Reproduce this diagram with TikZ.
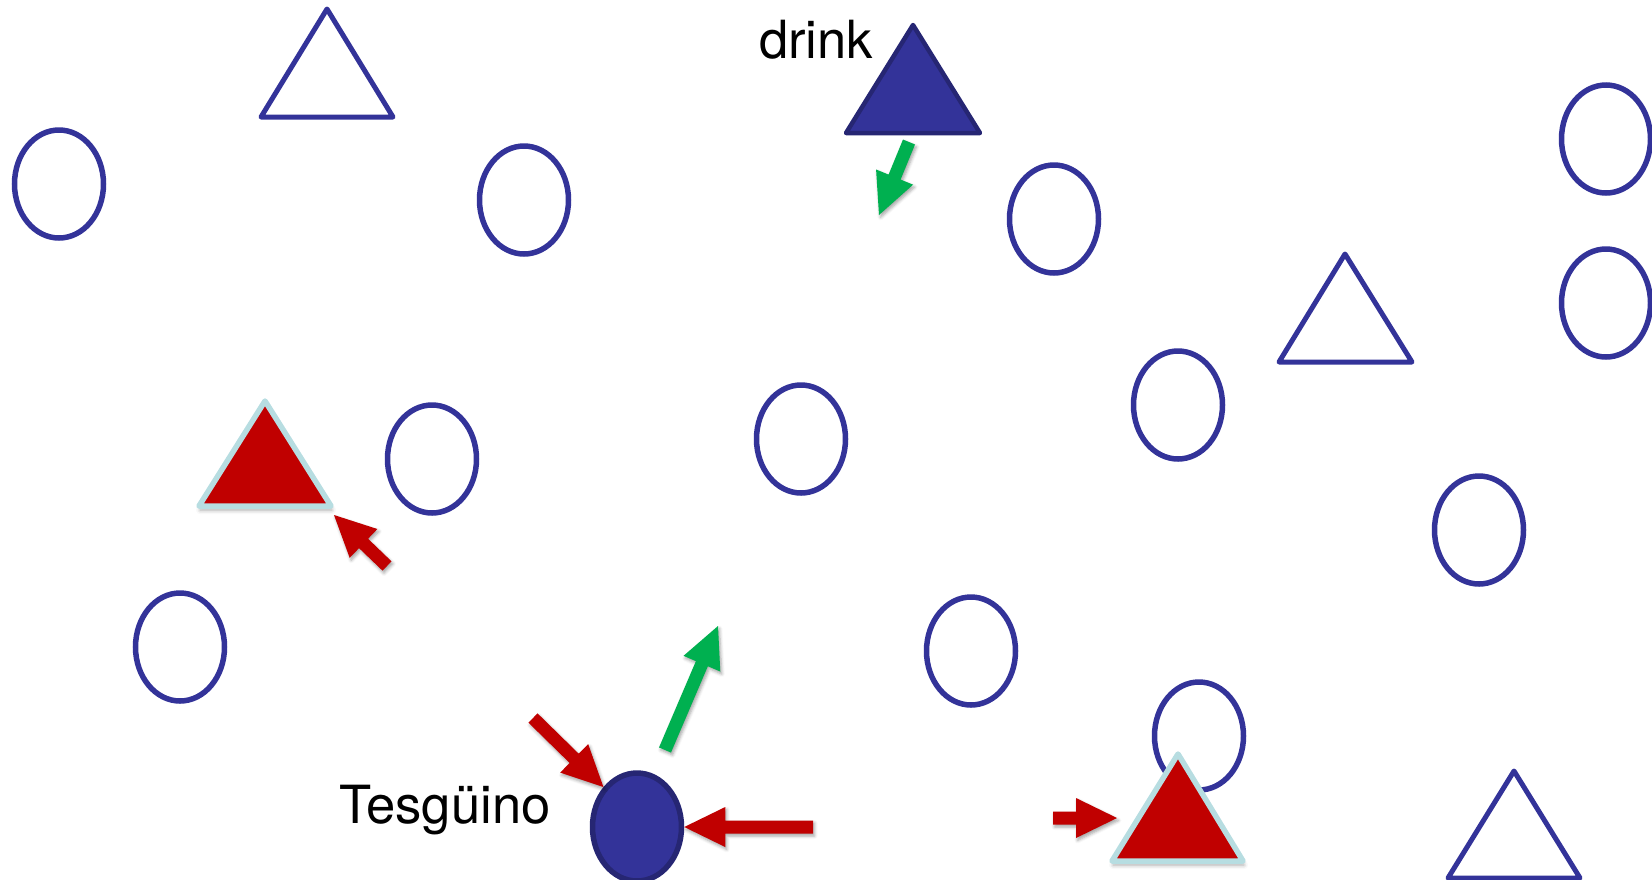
\documentclass[tikz,border=0pt]{standalone}
\usepackage{fontspec}
\setmainfont{TeX Gyre Heros}
\usetikzlibrary{calc,shapes.geometric,shadows.blur}

\definecolor{tblue}{HTML}{333399}
\definecolor{tnavy}{HTML}{262673}
\definecolor{tred}{HTML}{C00000}
\definecolor{tcyan}{HTML}{B7DDE1}
\definecolor{tgreen}{HTML}{00B050}

% fat block arrow from a tail point to a tip point
\def\bashaft{6.5pt}
\def\bahead{20pt}
\def\baheadlen{41pt}
\newcommand\blockarrow[3]{%
  \coordinate (ba-n) at ($(#2)!\baheadlen!(#1)$);
  \path[#3] ($(#1)!\bashaft!90:(#2)$) -- ($(ba-n)!\bashaft!90:(#2)$)
    -- ($(ba-n)!\bahead!90:(#2)$) -- (#2) -- ($(ba-n)!\bahead!-90:(#2)$)
    -- ($(ba-n)!\bashaft!-90:(#2)$) -- ($(#1)!\bashaft!-90:(#2)$) -- cycle;
}

\begin{document}
\begin{tikzpicture}[x=1pt,y=-1pt,
  ring/.style={ellipse, draw=tblue, line width=5.5pt, minimum width=89pt,
    minimum height=108pt, inner sep=0pt},
  fullring/.style={ring, draw=tnavy, fill=tblue},
  opentri/.style={draw=tblue, line width=5pt, line join=round},
  fulltri/.style={draw=tnavy, fill=tblue, line width=4.5pt, line join=round},
  redtri/.style={draw=tcyan, fill=tred, line width=5.5pt, line join=round,
    blur shadow={shadow xshift=1pt, shadow yshift=-4pt, shadow blur radius=4pt,
      shadow opacity=35}},
  arrowshade/.style={blur shadow={shadow xshift=1.5pt, shadow yshift=-2.5pt,
      shadow blur radius=3pt, shadow opacity=35}},
  redarrow/.style={fill=tred, arrowshade},
  greenarrow/.style={fill=tgreen, arrowshade},
  lbl/.style={inner sep=0pt, anchor=base west, font=\fontsize{52.6}{60}\selectfont}
]
\useasboundingbox (0,0) rectangle (1652,879);

% open rings
\node[ring] (ca) at (59,184) {};
\node[ring] (cb) at (524,200) {};
\node[ring] (cc) at (1054,219) {};
\node[ring] (cd) at (1606,139) {};
\node[ring] (ce) at (1606,303) {};
\node[ring] (cf) at (1178,405) {};
\node[ring] (cg) at (801,439) {};
\node[ring] (ch) at (432,459) {};
\node[ring] (ci) at (1479,530) {};
\node[ring] (cj) at (180,647) {};
\node[ring] (ck) at (971,651) {};
\node[ring] (cl) at (1199,736) {};

% filled ring
\node[fullring] (tes) at (637,827) {};

% open triangles
\draw[opentri] (327,9) -- (393,117) -- (261,117) -- cycle;
\draw[opentri] (1345,254) -- (1412,362) -- (1279,362) -- cycle;
\draw[opentri] (1514,771) -- (1580,878) -- (1448,878) -- cycle;

% filled triangle
\draw[fulltri] (913,25) -- (980,133) -- (846,133) -- cycle;

% red triangles
\draw[redtri] (265,401) -- (331,506) -- (199,506) -- cycle;
\draw[redtri] (1178,754) -- (1243,861) -- (1112,861) -- cycle;

% labels
\node[lbl] (drink) at (759,58) {drink};
\node[lbl] (tesname) at (339,823) {Tesgüino};

% arrow end points
\coordinate (r1a) at (387,566);  \coordinate (r1b) at (334,515);
\coordinate (r2a) at (533,718);
\coordinate (r3a) at (813,827);
\coordinate (r4a) at (1053,818); \coordinate (r4b) at (1117,818);
\coordinate (g1a) at (909,142);  \coordinate (g1b) at (879,215);
\coordinate (g2a) at (665,750);  \coordinate (g2b) at (718,626);

% arrows
\blockarrow{r1a}{r1b}{redarrow}
\blockarrow{r2a}{tes.130}{redarrow}
\blockarrow{r3a}{tes.east}{redarrow}
\blockarrow{r4a}{r4b}{redarrow}
\blockarrow{g1a}{g1b}{greenarrow}
\blockarrow{g2a}{g2b}{greenarrow}
\end{tikzpicture}
\end{document}
